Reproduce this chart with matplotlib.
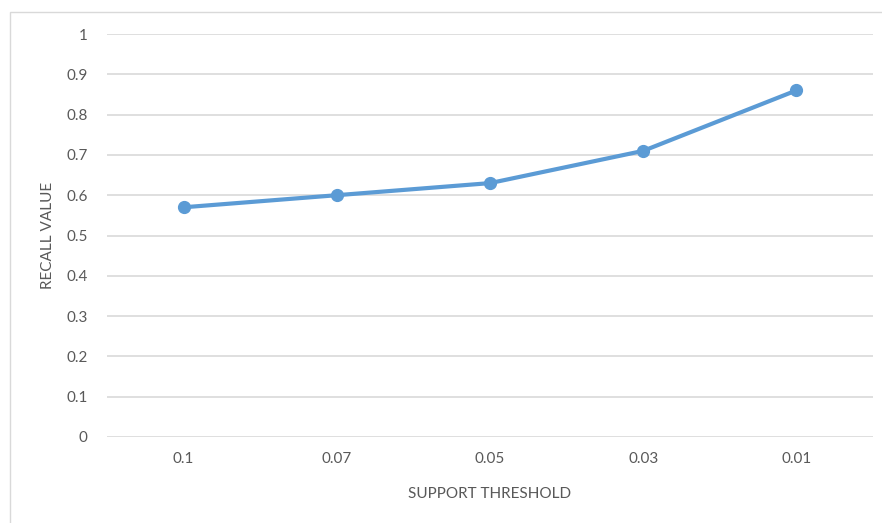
import matplotlib.pyplot as plt
from matplotlib.patches import Rectangle

thresholds = ['0.1', '0.07', '0.05', '0.03', '0.01']
recall = [0.57, 0.60, 0.63, 0.71, 0.86]
yticks = [0, 0.1, 0.2, 0.3, 0.4, 0.5, 0.6, 0.7, 0.8, 0.9, 1]
ytick_labels = ['0', '0.1', '0.2', '0.3', '0.4', '0.5', '0.6', '0.7', '0.8', '0.9', '1']

plt.rcParams['font.family'] = ['Lato', 'DejaVu Sans']
text_col = '#595959'

fig = plt.figure(figsize=(8.82, 5.23), dpi=100)
# outer chart frame (cropped on the right and bottom)
fig.patches.append(Rectangle((10 / 882, -0.05), 1.0, (523 - 12) / 523 + 0.05,
                             transform=fig.transFigure, fill=False,
                             edgecolor='#D9D9D9', linewidth=1.0))

ax = fig.add_axes([107 / 882, 86 / 523, 766 / 882, 403 / 523])
x = range(len(thresholds))
ax.plot(x, recall, color='#5B9BD5', linewidth=3, marker='o', markersize=8.5,
        solid_capstyle='round', zorder=3)

ax.set_xlim(-0.5, len(thresholds) - 0.5)
ax.set_ylim(0, 1)
ax.set_xticks(list(x))
ax.set_xticklabels(thresholds)
ax.set_yticks(yticks)
ax.set_yticklabels(ytick_labels)
ax.grid(axis='y', color='#D9D9D9', linewidth=1.2)
ax.set_axisbelow(True)
for s in ax.spines.values():
    s.set_visible(False)
ax.tick_params(length=0, colors=text_col, labelsize=11)
ax.tick_params(axis='y', pad=14)
ax.tick_params(axis='x', pad=11)

ax.set_xlabel('SUPPORT THRESHOLD', color=text_col, fontsize=11, labelpad=15)
ax.set_ylabel('RECALL VALUE', color=text_col, fontsize=11, labelpad=8)

plt.savefig('out.png', dpi=100)
